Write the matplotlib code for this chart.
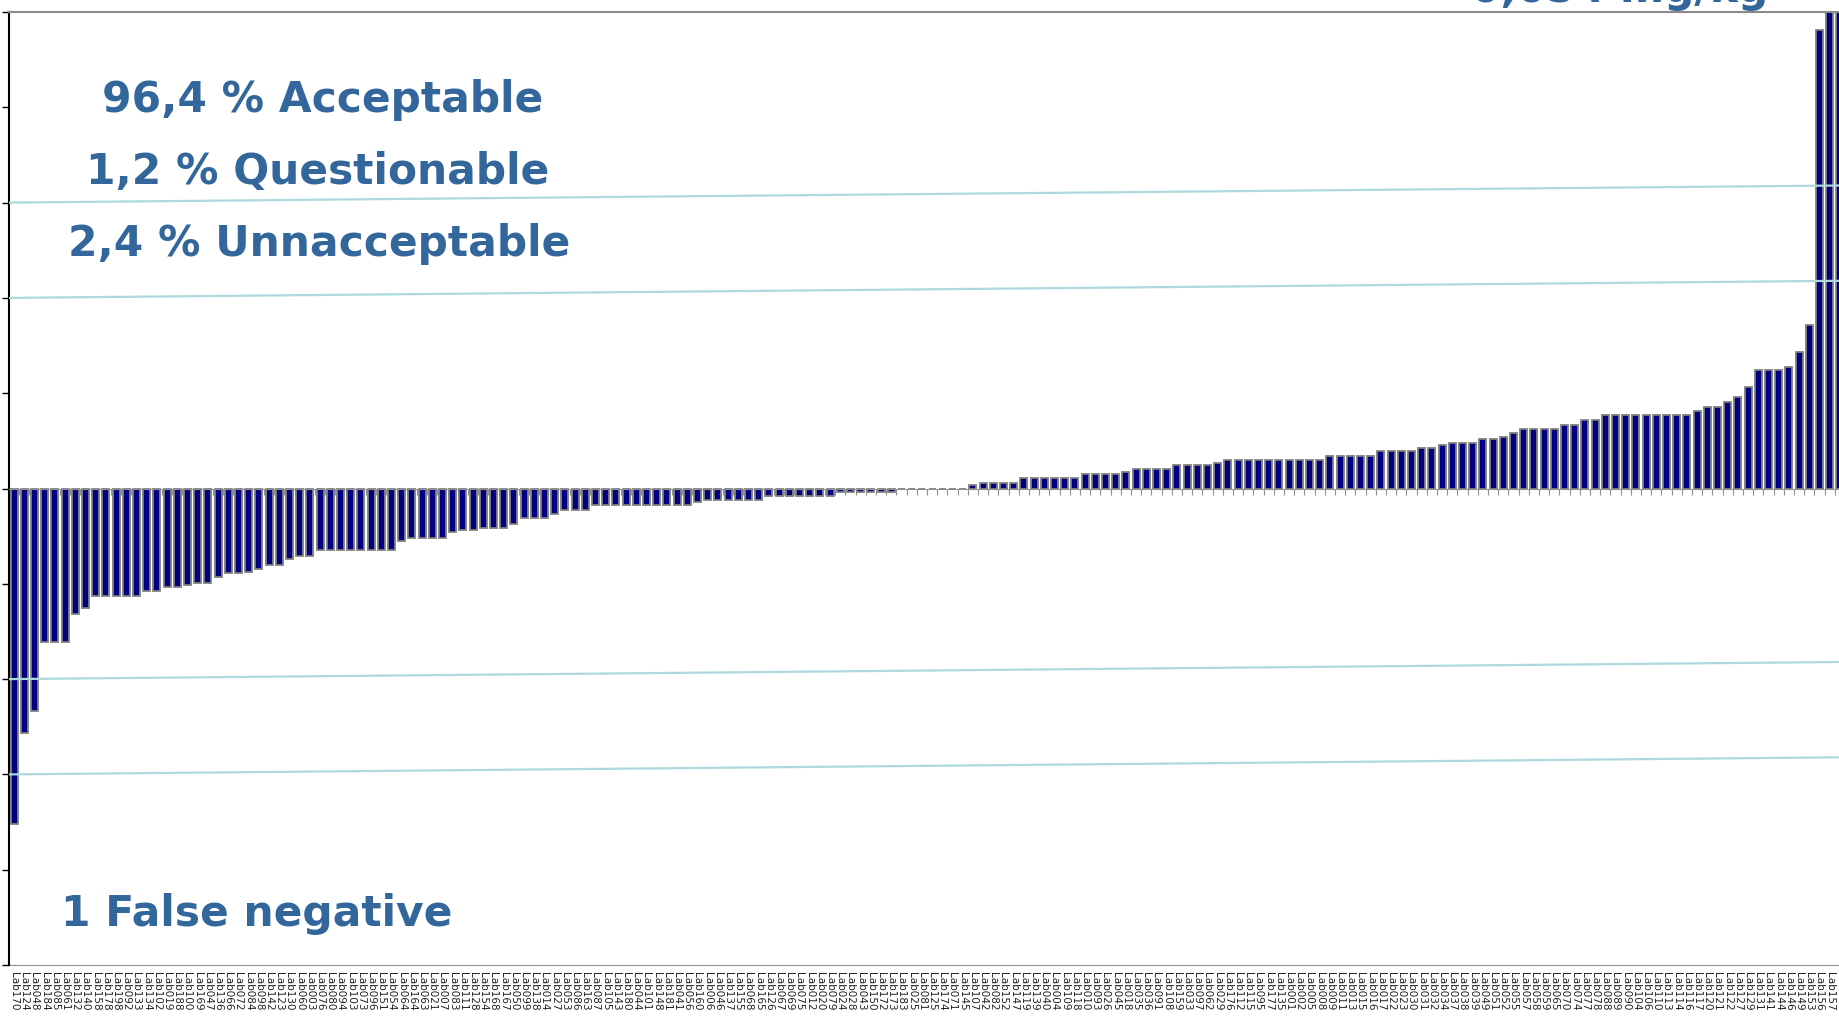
import numpy as np
import matplotlib.pyplot as plt

# z-scores, sorted, one per lab
z_scores = [
    -3.52, -2.57, -2.33, -1.61, -1.61, -1.61, -1.32, -1.25, -1.13, -1.13,
    -1.13, -1.13, -1.13, -1.08, -1.08, -1.03, -1.03, -1.01, -0.99, -0.99,
    -0.93, -0.89, -0.89, -0.88, -0.84, -0.80, -0.80, -0.74, -0.71, -0.71,
    -0.65, -0.65, -0.65, -0.65, -0.65, -0.65, -0.65, -0.65, -0.55, -0.52,
    -0.52, -0.52, -0.52, -0.46, -0.44, -0.44, -0.41, -0.41, -0.41, -0.37,
    -0.31, -0.31, -0.31, -0.27, -0.23, -0.23, -0.23, -0.17, -0.17, -0.17,
    -0.17, -0.17, -0.17, -0.17, -0.17, -0.17, -0.17, -0.14, -0.12, -0.12,
    -0.12, -0.12, -0.12, -0.12, -0.08, -0.08, -0.08, -0.08, -0.08, -0.08,
    -0.08, -0.035, -0.035, -0.035, -0.035, -0.035, -0.035, 0.0, 0.0, 0.0,
    0.0, 0.0, 0.0, 0.0, 0.04, 0.056, 0.056, 0.056, 0.056, 0.105,
    0.105, 0.105, 0.105, 0.105, 0.105, 0.154, 0.154, 0.154, 0.154, 0.168,
    0.20, 0.20, 0.20, 0.20, 0.25, 0.25, 0.25, 0.25, 0.27, 0.30,
    0.30, 0.30, 0.30, 0.30, 0.30, 0.30, 0.30, 0.30, 0.30, 0.34,
    0.34, 0.34, 0.34, 0.34, 0.395, 0.395, 0.395, 0.39, 0.43, 0.43,
    0.46, 0.48, 0.48, 0.48, 0.52, 0.52, 0.54, 0.58, 0.62, 0.62,
    0.62, 0.62, 0.67, 0.67, 0.72, 0.72, 0.77, 0.77, 0.77, 0.77,
    0.77, 0.77, 0.77, 0.77, 0.77, 0.81, 0.86, 0.86, 0.91, 0.96,
    1.06, 1.24, 1.24, 1.24, 1.28, 1.43, 1.72, 4.81, 6.5, 8.2,
]

labs = [
    "Lab170", "Lab124", "Lab048", "Lab184", "Lab085", "Lab061", "Lab132", "Lab140", "Lab158", "Lab178",
    "Lab198", "Lab092", "Lab133", "Lab134", "Lab102", "Lab019", "Lab188", "Lab100", "Lab169", "Lab047",
    "Lab136", "Lab066", "Lab072", "Lab084", "Lab098", "Lab142", "Lab123", "Lab130", "Lab060", "Lab003",
    "Lab076", "Lab080", "Lab094", "Lab103", "Lab073", "Lab096", "Lab151", "Lab054", "Lab064", "Lab164",
    "Lab063", "Lab021", "Lab007", "Lab083", "Lab111", "Lab128", "Lab154", "Lab168", "Lab167", "Lab050",
    "Lab099", "Lab138", "Lab014", "Lab027", "Lab053", "Lab086", "Lab163", "Lab087", "Lab105", "Lab143",
    "Lab180", "Lab044", "Lab101", "Lab148", "Lab181", "Lab041", "Lab056", "Lab160", "Lab006", "Lab046",
    "Lab137", "Lab155", "Lab068", "Lab165", "Lab126", "Lab067", "Lab069", "Lab075", "Lab012", "Lab020",
    "Lab079", "Lab024", "Lab028", "Lab043", "Lab150", "Lab172", "Lab173", "Lab183", "Lab025", "Lab081",
    "Lab125", "Lab174", "Lab071", "Lab145", "Lab107", "Lab042", "Lab082", "Lab152", "Lab147", "Lab119",
    "Lab139", "Lab040", "Lab004", "Lab109", "Lab118", "Lab010", "Lab093", "Lab026", "Lab045", "Lab018",
    "Lab035", "Lab036", "Lab091", "Lab108", "Lab159", "Lab033", "Lab097", "Lab062", "Lab029", "Lab176",
    "Lab112", "Lab115", "Lab095", "Lab177", "Lab135", "Lab001", "Lab002", "Lab005", "Lab008", "Lab009",
    "Lab011", "Lab013", "Lab015", "Lab016", "Lab017", "Lab022", "Lab023", "Lab030", "Lab031", "Lab032",
    "Lab034", "Lab037", "Lab038", "Lab039", "Lab049", "Lab051", "Lab052", "Lab055", "Lab057", "Lab058",
    "Lab059", "Lab065", "Lab070", "Lab074", "Lab077", "Lab078", "Lab088", "Lab089", "Lab090", "Lab104",
    "Lab106", "Lab110", "Lab113", "Lab114", "Lab116", "Lab117", "Lab120", "Lab121", "Lab122", "Lab127",
    "Lab129", "Lab131", "Lab141", "Lab144", "Lab146", "Lab149", "Lab153", "Lab156", "Lab157", "Lab182",
]

limit_levels = [-3, -2, 2, 3]
limit_drift = 0.18   # the limit lines rise slightly left to right

notes = ["96,4 % Acceptable", "1,2 % Questionable", "2,4 % Unnacceptable", "1 False negative"]
assigned = "0,054 mg/kg"

txt_col = "#33679c"

fig = plt.figure(figsize=(18.39, 10.23), dpi=100)
n = len(z_scores)
# axes runs a little past the right edge, like the cropped original
ax = fig.add_axes([9 / 1839, 1 - 965 / 1023, n * 10.2 / 1839, (965 - 12) / 1023])

x = np.arange(n)
ax.bar(x, z_scores, width=0.7, color="#000080", edgecolor="#808080", linewidth=1.3, zorder=2)

for lv in limit_levels:
    ax.plot([-0.5, n - 0.5], [lv, lv + limit_drift], color="#abd9dc", lw=1.6, zorder=3)

ax.set_xlim(-0.5, n - 0.5)
ax.set_ylim(-5, 5)

# zero line with category tick marks
ax.spines["bottom"].set_position(("data", 0))
ax.spines["bottom"].set_color("#909090")
ax.set_xticks(np.arange(-0.5, n, 1))
ax.tick_params(axis="x", length=4, color="#909090", labelbottom=False)

# lab names along the bottom
sec = ax.secondary_xaxis("bottom")
sec.set_xticks(x, labs, rotation=270, fontsize=7.5, color="#222222")
sec.tick_params(length=0, pad=5)
sec.spines["bottom"].set_color("#909090")

ax.set_yticks(range(-5, 6))
ax.tick_params(axis="y", length=5, width=1, labelleft=False)
ax.spines["left"].set_linewidth(1.5)
ax.spines["top"].set_color("#8a8a8a")
ax.spines["top"].set_linewidth(1.5)
ax.spines["right"].set_visible(False)

kw = dict(color=txt_col, fontsize=30.5, fontweight="bold", ha="center", va="baseline")
fig.text(323 / 1839, 1 - 112 / 1023, notes[0], **kw)
fig.text(318 / 1839, 1 - 184 / 1023, notes[1], **kw)
fig.text(319 / 1839, 1 - 256 / 1023, notes[2], **kw)
fig.text(257 / 1839, 1 - 926 / 1023, notes[3], **kw)
fig.text(1620 / 1839, 1 - 2 / 1023, assigned, **kw)

fig.savefig("out.png", dpi=100)
